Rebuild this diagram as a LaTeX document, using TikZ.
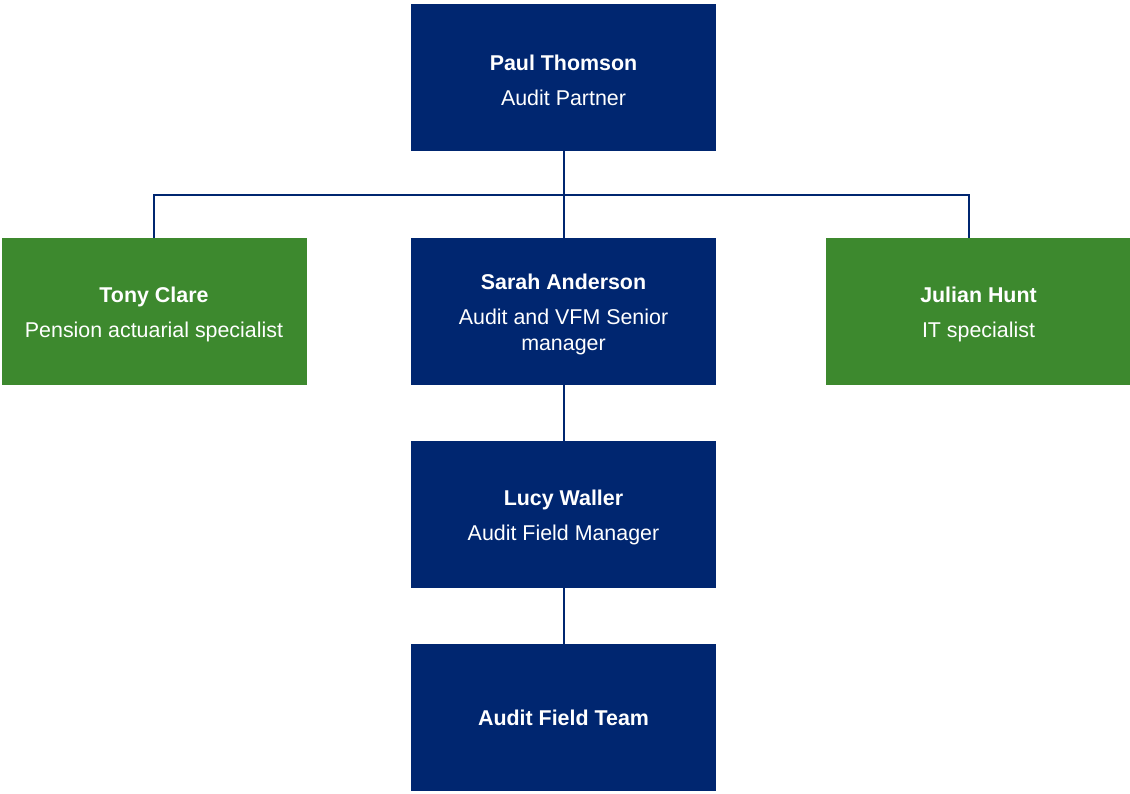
\documentclass[tikz,border=0pt]{standalone}
\usepackage{fontspec}
\setmainfont{Liberation Sans}
\usetikzlibrary{calc}
\definecolor{navy}{RGB}{0,38,112}
\definecolor{leaf}{RGB}{61,137,46}
\def\boxw{152.5pt}
\def\boxh{73.5pt}
\newcommand{\who}[1]{\rule{0pt}{10.8pt}\textbf{#1}}

\begin{document}
\begin{tikzpicture}[x=0.5pt,y=-0.5pt]
    \tikzset{%
      member/.style={%
        fill=navy, text=white, minimum width=\boxw, minimum height=\boxh,
        align=center, inner sep=0pt, font=\fontsize{10.7}{13}\selectfont},
      expert/.style={member, fill=leaf},
      link/.style={navy, line width=1pt}}

    \useasboundingbox (0,0) rectangle (1130,793);

    \node[member] (paul) at (563.5,77.5) {\who{Paul Thomson}\\[4.5pt]Audit Partner};
    \node[member] (sarah) at (563.5,311.5) {\who{Sarah Anderson}\\[4.5pt]Audit and VFM Senior\\manager};
    \node[expert] (tony) at (154,311.5) {\who{Tony Clare}\\[4.5pt]Pension actuarial specialist};
    \node[expert] (julian) at (978.5,311.5) {\who{Julian Hunt}\\[4.5pt]IT specialist};
    \node[member] (lucy) at (563.5,514.5) {\who{Lucy Waller}\\[4.5pt]Audit Field Manager};
    \node[member] (team) at (563.5,717.5) {\textbf{Audit Field Team}};

    % bus between partner and second row
    \coordinate (bus) at (563.5,194.5);
    \coordinate (tonytop) at (tony.north);
    \coordinate (juliantop) at (969,238);

    \draw[link] (paul) -- (sarah);
    \draw[link] (tonytop) |- (bus) -| (juliantop);
    \draw[link] (sarah) -- (lucy);
    \draw[link] (lucy) -- (team);
  \end{tikzpicture}
\end{document}
